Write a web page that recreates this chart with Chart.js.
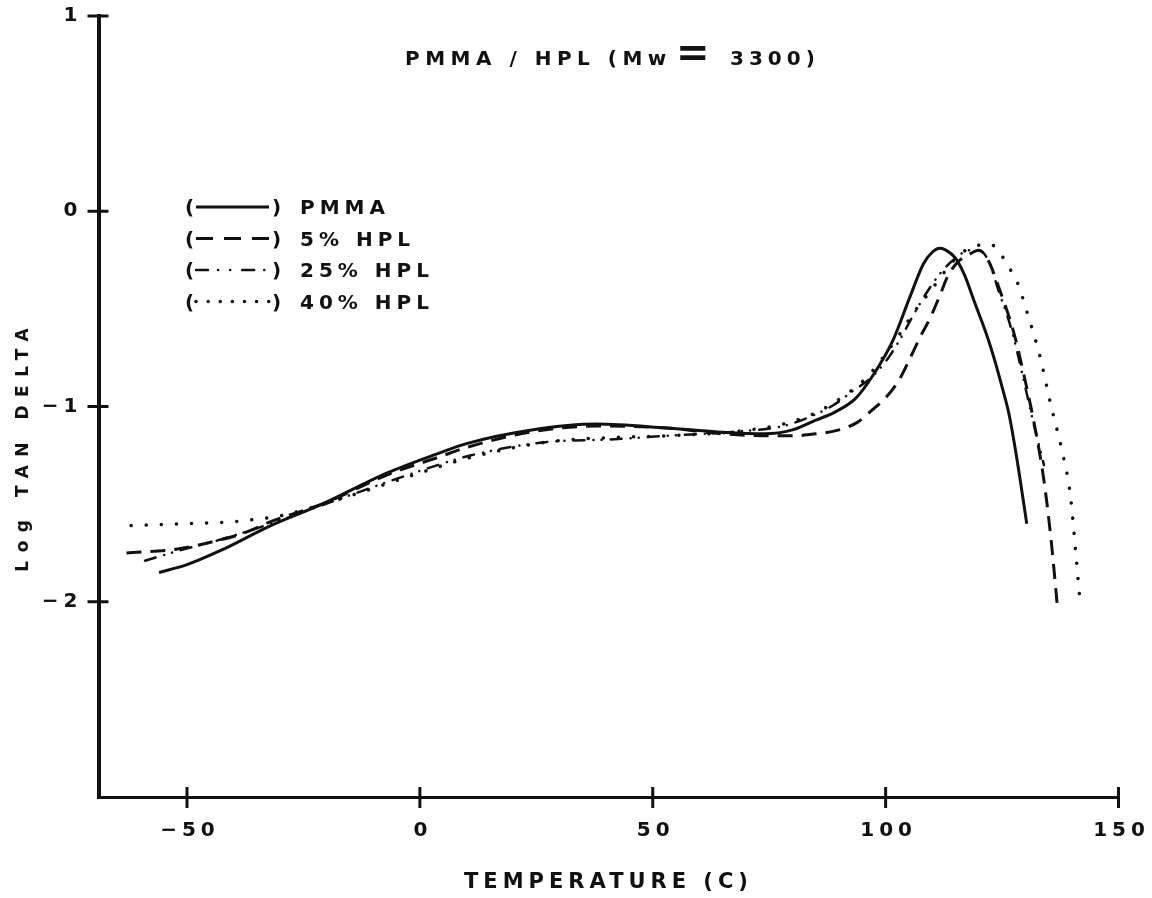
<!DOCTYPE html>
<html>
<head>
<meta charset="utf-8">
<title>PMMA / HPL (Mw = 3300)</title>
<script src="https://cdn.jsdelivr.net/npm/chart.js@4.4.1/dist/chart.umd.min.js"></script>
<style>
  html, body { margin: 0; padding: 0; background: #fff; }
  #wrap { width: 1152px; height: 898px; }
</style>
</head>
<body>
<div id="wrap"><canvas id="tanChart" width="1152" height="898"></canvas></div>
<script>
// temperature (C) and log tan delta for each blend
const pmmaTemp = [-56, -50, -43, -32, -21, -7, 4, 10, 24, 38, 53, 64, 74, 80, 85, 89, 93.5, 97.3, 101.6, 105.2, 108.1, 110, 111.7, 113, 115, 117, 119, 121.8, 123.5, 125, 126.5, 128.2, 130.3];
const pmmaLog  = [-1.85, -1.81, -1.74, -1.61, -1.50, -1.34, -1.24, -1.19, -1.12, -1.09, -1.11, -1.13, -1.14, -1.12, -1.07, -1.03, -0.96, -0.84, -0.66, -0.44, -0.27, -0.21, -0.19, -0.20, -0.24, -0.33, -0.46, -0.64, -0.77, -0.90, -1.04, -1.27, -1.60];

const hpl5Temp = [-63, -52, -44, -38, -32, -20, -7, 4, 10, 24, 38, 53, 65, 75, 80, 85, 90, 94, 97, 100.2, 103, 105.5, 107.5, 109.5, 111.5, 113.4, 115.5, 118, 120, 122, 124.6, 127.5, 129.8, 132, 134, 135.6, 136.9];
const hpl5Log  = [-1.75, -1.73, -1.69, -1.65, -1.59, -1.49, -1.35, -1.26, -1.21, -1.13, -1.10, -1.11, -1.14, -1.15, -1.15, -1.14, -1.12, -1.08, -1.02, -0.95, -0.86, -0.74, -0.64, -0.55, -0.44, -0.33, -0.26, -0.22, -0.20, -0.25, -0.41, -0.62, -0.85, -1.10, -1.38, -1.70, -2.03];

const hpl25Temp = [-59, -52, -42.6, -32, -18, 0, 11, 28, 40, 53, 67, 78, 85, 89, 93, 97, 100.3, 103, 106, 109, 112, 115, 118, 120, 122, 124.3, 127.2, 129.5, 131.7, 134];
const hpl25Log  = [-1.79, -1.74, -1.68, -1.60, -1.48, -1.33, -1.25, -1.18, -1.17, -1.15, -1.13, -1.10, -1.04, -0.99, -0.92, -0.85, -0.76, -0.66, -0.53, -0.41, -0.31, -0.24, -0.20, -0.20, -0.25, -0.41, -0.62, -0.85, -1.08, -1.30];

const hpl40Temp = [-62, -50, -40, -36, -30, -18, 0, 11, 28, 40, 53, 67, 78, 85.2, 92, 96, 99.4, 103, 106, 109.6, 113, 116, 119, 122.5, 124.2, 126, 128.2, 130.4, 133.2, 135.4, 138, 139.7, 140.8, 141.6];
const hpl40Log  = [-1.61, -1.60, -1.59, -1.58, -1.56, -1.48, -1.34, -1.26, -1.18, -1.16, -1.15, -1.13, -1.09, -1.03, -0.93, -0.85, -0.75, -0.63, -0.52, -0.41, -0.30, -0.22, -0.18, -0.17, -0.20, -0.27, -0.36, -0.52, -0.75, -0.985, -1.24, -1.46, -1.74, -1.96];

const seriesLabels = ['PMMA', '5% HPL', '25% HPL', '40% HPL'];
const xTicks = [-50, 0, 50, 100, 150];
const yTicks = [1, 0, -1, -2];

const INK = '#111';
const FONT = '"DejaVu Sans", Verdana, sans-serif';
const SIZE = 20;
const SPACING = 5;

function toPoints(xs, ys) {
  return xs.map((x, i) => ({ x: x, y: ys[i] }));
}

// negative numbers get a real minus sign
function fmt(v) {
  return v < 0 ? '\u2212' + Math.abs(v) : String(v);
}

// keep tick labels from pushing the plot area around
function noOverhang(s) {
  s.paddingLeft = 0;
  s.paddingRight = 0;
  s.paddingTop = 0;
  s.paddingBottom = 0;
}

// draw text left-aligned, returns visible width (trailing letter spacing removed)
function putText(ctx, text, x, y, size, spacing) {
  ctx.font = 'bold ' + size + 'px ' + FONT;
  ctx.letterSpacing = spacing + 'px';
  ctx.textAlign = 'left';
  ctx.textBaseline = 'alphabetic';
  ctx.fillText(text, x, y);
  return ctx.measureText(text).width - spacing;
}

const paperPlugin = {
  id: 'paper',
  beforeDraw(chart) {
    const ctx = chart.ctx;
    ctx.save();
    ctx.fillStyle = '#fff';
    ctx.fillRect(0, 0, chart.width, chart.height);
    ctx.restore();
    ctx.letterSpacing = SPACING + 'px';
  },
  afterDraw(chart) {
    const ctx = chart.ctx;
    const xs = chart.scales.x, ys = chart.scales.y;
    ctx.save();
    ctx.strokeStyle = INK;
    ctx.fillStyle = INK;

    // tick marks crossing the axes
    ctx.lineWidth = 3;
    ctx.setLineDash([]);
    xTicks.forEach(v => {
      const px = xs.getPixelForValue(v);
      ctx.beginPath();
      ctx.moveTo(px, ys.bottom - 10);
      ctx.lineTo(px, ys.bottom + 11);
      ctx.stroke();
    });
    yTicks.forEach(v => {
      const py = ys.getPixelForValue(v);
      ctx.beginPath();
      ctx.moveTo(xs.left - 11, py);
      ctx.lineTo(xs.left + 10, py);
      ctx.stroke();
    });

    // title with the oversized equals sign
    putText(ctx, 'PMMA / HPL (Mw', 405, 65, SIZE, 5.5);
    putText(ctx, '=', 676, 66, 40, 0);
    putText(ctx, '3300)', 730, 65, SIZE, SPACING);

    // legend: (line) label
    const rowY = [207, 238.5, 270, 301.5];
    chart.data.datasets.forEach((ds, i) => {
      const y = rowY[i];
      putText(ctx, '(', 185, y + 7, SIZE, 0);
      putText(ctx, ')', 272, y + 7, SIZE, 0);
      putText(ctx, ds.label, 300, y + 7, SIZE, SPACING);
      ctx.beginPath();
      ctx.lineWidth = ds.borderWidth;
      ctx.lineCap = ds.borderCapStyle || 'butt';
      ctx.setLineDash(ds.legendDash || []);
      ctx.moveTo(196, y);
      ctx.lineTo(269, y);
      ctx.stroke();
    });
    ctx.setLineDash([]);
    ctx.lineCap = 'butt';

    // vertical axis title
    ctx.translate(28, 450);
    ctx.rotate(-Math.PI / 2);
    ctx.font = 'bold 17px ' + FONT;
    ctx.letterSpacing = '8.5px';
    const w = ctx.measureText('Log TAN DELTA').width - 8.5;
    putText(ctx, 'Log TAN DELTA', -w / 2, 0, 17, 8.5);
    ctx.restore();
  }
};

const tickFont = { family: FONT, size: SIZE, weight: 'bold' };

new Chart(document.getElementById('tanChart'), {
  type: 'scatter',
  data: {
    datasets: [
      {
        label: seriesLabels[0],
        data: toPoints(pmmaTemp, pmmaLog),
        borderColor: INK, borderWidth: 3,
        legendDash: []
      },
      {
        label: seriesLabels[1],
        data: toPoints(hpl5Temp, hpl5Log),
        borderColor: INK, borderWidth: 3,
        borderDash: [15, 9],
        legendDash: [17, 11]
      },
      {
        label: seriesLabels[2],
        data: toPoints(hpl25Temp, hpl25Log),
        borderColor: INK, borderWidth: 2.5,
        borderCapStyle: 'round',
        borderDash: [11, 9, 0.1, 8, 0.1, 9],
        legendDash: [12, 10, 0.1, 12, 0.1, 12]
      },
      {
        label: seriesLabels[3],
        data: toPoints(hpl40Temp, hpl40Log),
        borderColor: INK, borderWidth: 3.5,
        borderCapStyle: 'round',
        borderDash: [0.1, 15],
        legendDash: [0.1, 12]
      }
    ]
  },
  options: {
    responsive: false,
    animation: false,
    devicePixelRatio: 1,
    showLine: true,
    cubicInterpolationMode: 'monotone',
    elements: { point: { radius: 0, hoverRadius: 0 } },
    layout: { padding: { left: 0, top: 16, right: 33.5, bottom: 0 } },
    plugins: {
      legend: { display: false },
      title: { display: false },
      tooltip: { enabled: false }
    },
    scales: {
      x: {
        type: 'linear',
        min: -69,
        max: 150,
        afterBuildTicks: s => { s.ticks = xTicks.map(v => ({ value: v })); },
        afterFit: s => { s.height = 101; noOverhang(s); },
        grid: { display: true, drawOnChartArea: false, drawTicks: false },
        border: { display: true, color: INK, width: 3 },
        ticks: {
          color: INK, font: tickFont, padding: 22, labelOffset: 3,
          maxRotation: 0, autoSkip: false, callback: fmt
        },
        title: {
          display: true, text: 'TEMPERATURE (C)', color: INK,
          font: { family: FONT, size: 21, weight: 'bold' },
          padding: { top: 0, bottom: 3 }
        }
      },
      y: {
        type: 'linear',
        min: -3,
        max: 1,
        afterBuildTicks: s => { s.ticks = yTicks.map(v => ({ value: v })); },
        afterFit: s => { s.width = 98.5; noOverhang(s); },
        grid: { display: true, drawOnChartArea: false, drawTicks: false },
        border: { display: true, color: INK, width: 4 },
        ticks: { color: INK, font: tickFont, padding: 16, callback: fmt }
      }
    }
  },
  plugins: [paperPlugin]
});
</script>
</body>
</html>
